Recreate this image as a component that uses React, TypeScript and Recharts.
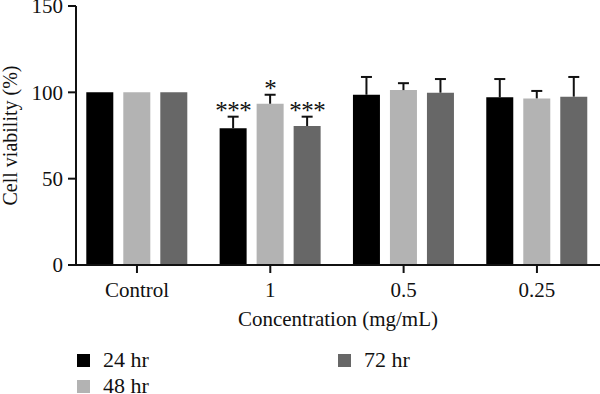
import { BarChart, Bar, XAxis, YAxis, Legend, LabelList } from "recharts";

// ─── Data ─────────────────────────────────────────────────────────────────────

const concentrations = ["Control", "1", "0.5", "0.25"];
const seriesNames = ["24 hr", "48 hr", "72 hr"];
const seriesColors = ["#000000", "#b3b3b3", "#676767"];

const viability24 = [100, 79.2, 98.6, 97.1];
const viability48 = [100, 93.4, 101.3, 96.5];
const viability72 = [100, 80.5, 99.8, 97.5];

// upper error (SD)
const sd24 = [0, 6.7, 10.3, 10.6];
const sd48 = [0, 5.2, 4.0, 4.3];
const sd72 = [0, 5.4, 7.9, 11.4];

const stars24 = ["", "***", "", ""];
const stars48 = ["", "*", "", ""];
const stars72 = ["", "***", "", ""];

const yTicks = [0, 50, 100, 150];

const data = concentrations.map((name, i) => ({
  name,
  h24: viability24[i],
  h48: viability48[i],
  h72: viability72[i],
}));

const FONT = "'Liberation Serif', 'Times New Roman', serif";
const INK = "#111111";

// ─── Error bar + significance marks, drawn on top of each bar ────────────────

function makeErrorLabel(sd: number[], stars: string[]) {
  return (props: any) => {
    const vb = props.viewBox || props;
    const x = Number(props.x ?? vb.x);
    const y = Number(props.y ?? vb.y);
    const width = Number(props.width ?? vb.width);
    const height = Number(props.height ?? vb.height);
    const value = Number(props.value);
    const index = props.index;
    const err = sd[index] || 0;
    const mark = stars[index] || "";
    if (!err && !mark) return null;
    const pxPerUnit = height / value;
    const cx = x + width / 2;
    const top = y - err * pxPerUnit;
    return (
      <g>
        {err > 0 && (
          <line x1={cx} x2={cx} y1={y} y2={top} stroke={INK} strokeWidth={2} />
        )}
        {err > 0 && (
          <line x1={cx - 5.5} x2={cx + 5.5} y1={top} y2={top} stroke={INK} strokeWidth={2} />
        )}
        {mark && (
          <text
            x={cx}
            y={top + 2}
            textAnchor="middle"
            fontSize={25}
            fontFamily={FONT}
            fill={INK}
            letterSpacing={-0.5}
          >
            {mark}
          </text>
        )}
      </g>
    );
  };
}

// ─── Axis title / legend ──────────────────────────────────────────────────────

function YTitle({ viewBox }: any) {
  const cy = viewBox.y + viewBox.height / 2;
  return (
    <text
      transform={`translate(${viewBox.x + 17},${cy}) rotate(-90)`}
      textAnchor="middle"
      fontSize={20}
      fontFamily={FONT}
      fill={INK}
    >
      Cell viability (%)
    </text>
  );
}

function LegendBox({ payload }: any) {
  const items = (payload || []).map((p: any, i: number) => ({
    label: p.value ?? seriesNames[i],
    color: p.color ?? seriesColors[i],
  }));
  return (
    <div style={{ position: "relative", width: 600, height: 68, fontFamily: FONT }}>
      {items.map((it: any, i: number) => {
        const col = Math.floor(i / 2);
        const row = i % 2;
        return (
          <div
            key={it.label}
            style={{
              position: "absolute",
              left: col === 0 ? 77 : 338,
              top: 22 + row * 26,
              display: "flex",
              alignItems: "center",
              fontSize: 22,
              color: INK,
              lineHeight: "24px",
              whiteSpace: "nowrap",
            }}
          >
            <span style={{ width: 13, height: 13, background: it.color, marginRight: 13 }} />
            {it.label}
          </div>
        );
      })}
    </div>
  );
}

// ─── Chart ────────────────────────────────────────────────────────────────────

export default function App() {
  return (
    <div style={{ position: "absolute", left: 0, top: 0, width: 600, height: 394, background: "#fff" }}>
      <BarChart
        width={600}
        height={394}
        data={data}
        margin={{ top: 6, right: 0, bottom: 0, left: 0 }}
        barSize={27}
        barGap={10}
        style={{ fontFamily: FONT }}
      >
        <XAxis
          dataKey="name"
          height={61}
          padding={{ left: -5.7, right: -3.6 }}
          tick={{ fill: INK, fontSize: 21 }}
          tickSize={8}
          tickMargin={9}
          tickLine={{ stroke: INK, strokeWidth: 2 }}
          axisLine={{ stroke: INK, strokeWidth: 2 }}
          label={{
            value: "Concentration (mg/mL)",
            position: "insideBottom",
            offset: 0,
            fill: INK,
            fontSize: 21,
          }}
        />
        <YAxis
          width={76}
          domain={[0, 150]}
          ticks={yTicks}
          interval={0}
          tick={{ fill: INK, fontSize: 21 }}
          tickSize={8}
          tickMargin={5}
          tickLine={{ stroke: INK, strokeWidth: 2 }}
          axisLine={{ stroke: INK, strokeWidth: 2 }}
          label={<YTitle />}
        />
        <Legend
          verticalAlign="bottom"
          content={<LegendBox />}
          wrapperStyle={{ left: 0, bottom: 0, width: 600, height: 68 }}
        />
        <Bar dataKey="h24" name={seriesNames[0]} fill={seriesColors[0]} isAnimationActive={false}>
          <LabelList dataKey="h24" content={makeErrorLabel(sd24, stars24)} />
        </Bar>
        <Bar dataKey="h48" name={seriesNames[1]} fill={seriesColors[1]} isAnimationActive={false}>
          <LabelList dataKey="h48" content={makeErrorLabel(sd48, stars48)} />
        </Bar>
        <Bar dataKey="h72" name={seriesNames[2]} fill={seriesColors[2]} isAnimationActive={false}>
          <LabelList dataKey="h72" content={makeErrorLabel(sd72, stars72)} />
        </Bar>
      </BarChart>
    </div>
  );
}
